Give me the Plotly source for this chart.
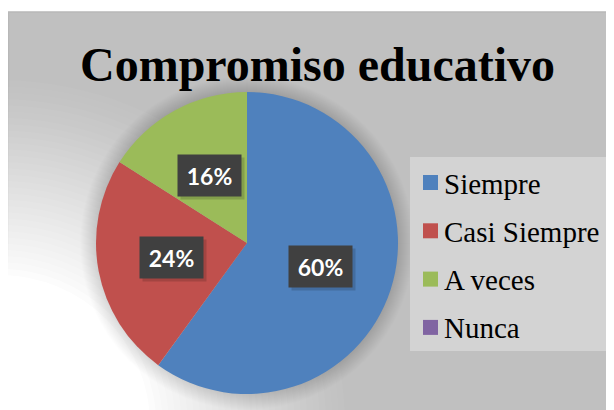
import math
import plotly.graph_objects as go

# ---- data ----
labels = ["Siempre", "Casi Siempre", "A veces", "Nunca"]
values = [60, 24, 16, 0]
colors = ["#4F81BD", "#C0504D", "#9BBB59", "#8064A2"]
title_text = "Compromiso educativo"

# page body has an 8px margin; the figure is sized to fill the rest of the window
OFF = 8
W, H = 606, 402

def px(x):
    return (x - OFF) / W

def py(y):
    return 1 - (y - OFF) / H

# pie geometry (window pixels)
cx, cy, r = 247, 243, 151

fig = go.Figure()
fig.add_trace(go.Pie(
    labels=labels, values=values,
    marker=dict(colors=colors, line=dict(width=0)),
    sort=False, direction="clockwise", rotation=0,
    textinfo="none", hoverinfo="label+percent",
    showlegend=False,
    domain=dict(x=[px(cx - r), px(cx + r)], y=[py(cy + r), py(cy - r)]),
))

shapes = []
# chart area
shapes.append(dict(type="rect", xref="paper", yref="paper", layer="below",
                   x0=px(8.5), x1=px(630), y0=py(430), y1=py(12),
                   fillcolor="#C0C0C0", line=dict(color="#B8B8B8", width=1.5)))
# white radial glow toward bottom-left (linear ramp)
n = 32
r_out, r_in = 345, 150
gx, gy = 0, 425
for k in range(1, n + 1):
    rr = r_out - (k - 1) * (r_out - r_in) / (n - 1)
    a = 1.0 / (n - k + 1)
    shapes.append(dict(type="circle", xref="paper", yref="paper", layer="below",
                       x0=px(gx - rr), x1=px(gx + rr), y0=py(gy + rr), y1=py(gy - rr),
                       fillcolor=f"rgba(255,255,255,{a:.4f})", line=dict(width=0)))
# soft pie shadow all round
for d in range(16, 0, -1):
    shapes.append(dict(type="circle", xref="paper", yref="paper", layer="below",
                       x0=px(cx - r - d), x1=px(cx + r + d),
                       y0=py(cy + r + d), y1=py(cy - r - d),
                       fillcolor="rgba(0,0,0,0.009)", line=dict(width=0)))

# legend box
lx0, lx1, ly0, ly1 = 410, 613, 157, 351
shapes.append(dict(type="rect", xref="paper", yref="paper", layer="above",
                   x0=px(lx0), x1=px(lx1), y0=py(ly1), y1=py(ly0),
                   fillcolor="#D3D3D3", line=dict(width=0)))

annotations = []
item_y0, item_gap = 182.5, 48.3
for i, (lab, col) in enumerate(zip(labels, colors)):
    yc = item_y0 + i * item_gap
    shapes.append(dict(type="rect", xref="paper", yref="paper", layer="above",
                       x0=px(423), x1=px(438), y0=py(yc + 7.5), y1=py(yc - 7.5),
                       fillcolor=col, line=dict(width=0)))
    annotations.append(dict(xref="paper", yref="paper", x=px(442), y=py(yc + 1),
                            xanchor="left", yanchor="middle", showarrow=False,
                            text=lab, font=dict(family="Liberation Serif", size=29, color="#000000")))

# title
annotations.append(dict(xref="paper", yref="paper", x=px(317), y=py(64),
                        xanchor="center", yanchor="middle", showarrow=False,
                        text="<b>" + title_text + "</b>",
                        font=dict(family="Liberation Serif", size=48, color="#000000")))

# data labels in dark boxes, placed from slice mid-angles
total = sum(values)
cum = 0
for v in values:
    if v > 0:
        mid = (cum + v / 2) / total * 2 * math.pi
        f = 0.51
        lxp = cx + r * f * math.sin(mid)
        lyp = cy - r * f * math.cos(mid)
        txt = f"{round(v / total * 100)}%"
        annotations.append(dict(xref="paper", yref="paper", x=px(lxp + 3), y=py(lyp + 3),
                                xanchor="center", yanchor="middle", showarrow=False,
                                text=" ", width=63, height=41, borderpad=0,
                                bgcolor="rgba(0,0,0,0.15)"))
        annotations.append(dict(xref="paper", yref="paper", x=px(lxp), y=py(lyp),
                                xanchor="center", yanchor="middle", showarrow=False,
                                text="<b>" + txt + "</b>", width=63, height=41, borderpad=0,
                                bgcolor="#404040",
                                font=dict(family="Lato", size=23, color="#FFFFFF")))
    cum += v

fig.update_layout(
    width=W, height=H,
    margin=dict(l=0, r=0, t=0, b=0),
    paper_bgcolor="#FFFFFF",
    plot_bgcolor="#FFFFFF",
    shapes=shapes,
    annotations=annotations,
)

fig.write_html("out.html")
